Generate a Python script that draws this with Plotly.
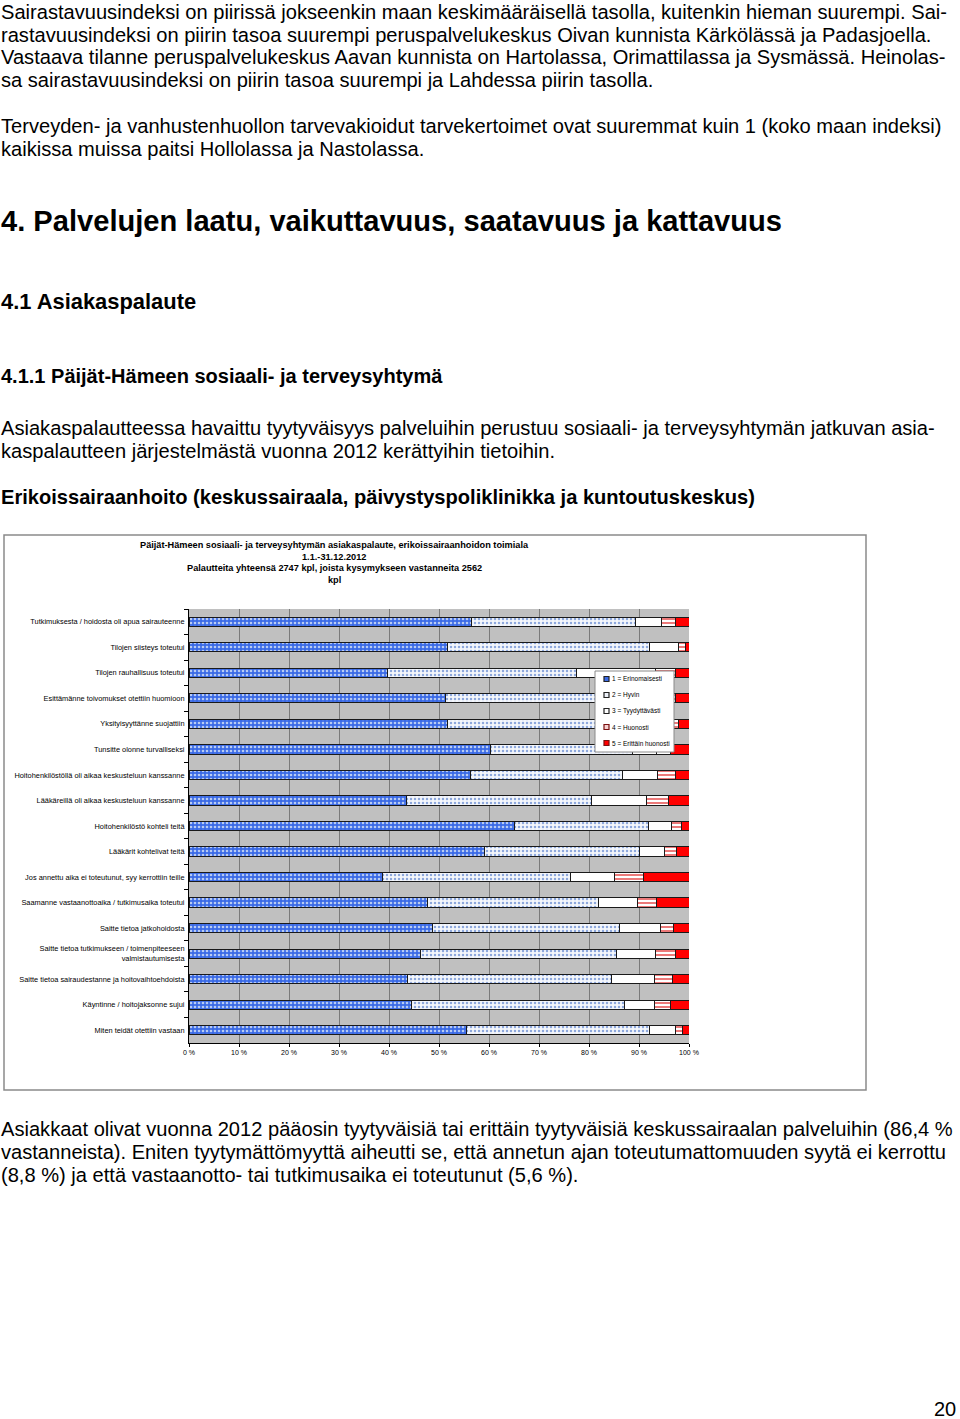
import plotly.graph_objects as go

W, H = 960, 1419

categories = [
    "Tutkimuksesta / hoidosta oli apua sairauteenne",
    "Tilojen siisteys toteutui",
    "Tilojen rauhallisuus toteutui",
    "Esittämänne toivomukset otettiin huomioon",
    "Yksityisyyttänne suojattiin",
    "Tunsitte olonne turvalliseksi",
    "Hoitohenkilöstöllä oli aikaa keskusteluun kanssanne",
    "Lääkäreillä oli aikaa keskusteluun kanssanne",
    "Hoitohenkilöstö kohteli teitä",
    "Lääkärit kohtelivat teitä",
    "Jos annettu aika ei toteutunut, syy kerrottiin teille",
    "Saamanne vastaanottoaika / tutkimusaika toteutui",
    "Saitte tietoa jatkohoidosta",
    "Saitte tietoa tutkimukseen / toimenpiteeseen<br>valmistautumisesta",
    "Saitte tietoa sairaudestanne ja hoitovaihtoehdoista",
    "Käyntinne / hoitojaksonne sujui",
    "Miten teidät otettiin vastaan",
]
series_names = ["1 = Erinomaisesti", "2 = Hyvin", "3 = Tyydyttävästi",
                "4 = Huonosti", "5 = Erittäin huonosti"]
erinomaisesti = [56.4, 51.7, 39.7, 51.3, 51.7, 60.2, 56.2, 43.4, 65.1, 59.0, 38.7, 47.7, 48.7, 46.2, 43.7, 44.4, 55.4]
hyvin = [32.9, 40.3, 37.8, 34.7, 37.3, 28.5, 30.5, 37.0, 26.8, 31.1, 37.5, 34.2, 37.4, 39.3, 40.8, 42.7, 36.7]
tyydyttavasti = [5.2, 5.9, 15.8, 7.0, 6.5, 4.8, 7.0, 11.1, 4.5, 5.0, 8.8, 7.8, 8.2, 7.8, 8.6, 6.0, 5.1]
huonosti = [2.7, 1.3, 3.9, 4.2, 2.3, 2.7, 3.6, 4.4, 2.0, 2.4, 5.9, 3.8, 2.6, 4.0, 3.6, 3.1, 1.5]
erittain_huonosti = [2.8, 0.8, 2.8, 2.8, 2.2, 3.8, 2.7, 4.1, 1.6, 2.5, 9.1, 6.5, 3.1, 2.7, 3.3, 3.8, 1.3]
x_ticks = [0, 10, 20, 30, 40, 50, 60, 70, 80, 90, 100]
x_ticklabels = ["%d %%" % v for v in x_ticks]

values = [erinomaisesti, hyvin, tyydyttavasti, huonosti, erittain_huonosti]
fills = ["#3a6ae6", "#eef2fa", "#ffffff", "#f6d0d0", "#ff0000"]
swatch_borders = ["#222222", "#222222", "#222222", "#7a1010", "#7a1010"]
styles = [
    dict(color=fills[0], pattern=dict(shape=".", bgcolor="#3a6ae6", fgcolor="#b7cbf3", size=4, solidity=0.35)),
    dict(color=fills[1], pattern=dict(shape=".", bgcolor="#f4f7fc", fgcolor="#8ea8dc", size=4, solidity=0.3)),
    dict(color=fills[2]),
    dict(color="#ffffff", pattern=dict(shape="-", bgcolor="#ffffff", fgcolor="#e02020", size=4, solidity=0.3)),
    dict(color=fills[4]),
]

fig = go.Figure()
for name, vals, st in zip(series_names, values, styles):
    marker = dict(line=dict(color="#1a1a1a", width=1), **st)
    fig.add_trace(go.Bar(y=categories, x=vals, name=name, orientation="h",
                         marker=marker, hoverinfo="x+y", showlegend=False))

def px(x):
    return x / W

def py(y):
    return 1 - y / H

FONT = "Liberation Sans, Arial, sans-serif"
annotations = []

def text(x, y, s, size, bold=False, anchor="left", color="#000"):
    if bold:
        s = "<b>" + s + "</b>"
    annotations.append(dict(x=px(x), y=py(y), xref="paper", yref="paper", text=s,
                            showarrow=False, xanchor=anchor, yanchor="middle",
                            borderpad=0,
                            font=dict(family=FONT, size=size, color=color)))

body = 20.1
lines1 = [
    (12, "Sairastavuusindeksi on piirissä jokseenkin maan keskimääräisellä tasolla, kuitenkin hieman suurempi. Sai-"),
    (35, "rastavuusindeksi on piirin tasoa suurempi peruspalvelukeskus Oivan kunnista Kärkölässä ja Padasjoella."),
    (57, "Vastaava tilanne peruspalvelukeskus Aavan kunnista on Hartolassa, Orimattilassa ja Sysmässä. Heinolas-"),
    (80, "sa sairastavuusindeksi on piirin tasoa suurempi ja Lahdessa piirin tasolla."),
    (126, "Terveyden- ja vanhustenhuollon tarvevakioidut tarvekertoimet ovat suuremmat kuin 1 (koko maan indeksi)"),
    (149, "kaikissa muissa paitsi Hollolassa ja Nastolassa."),
    (428, "Asiakaspalautteessa havaittu tyytyväisyys palveluihin perustuu sosiaali- ja terveysyhtymän jatkuvan asia-"),
    (451, "kaspalautteen järjestelmästä vuonna 2012 kerättyihin tietoihin."),
    (1129, "Asiakkaat olivat vuonna 2012 pääosin tyytyväisiä tai erittäin tyytyväisiä keskussairaalan palveluihin (86,4 %"),
    (1152, "vastanneista). Eniten tyytymättömyyttä aiheutti se, että annetun ajan toteutumattomuuden syytä ei kerrottu"),
    (1175, "(8,8 %) ja että vastaanotto- tai tutkimusaika ei toteutunut (5,6 %)."),
]
for y, s in lines1:
    text(0, y, s, body)

text(0, 221, "4. Palvelujen laatu, vaikuttavuus, saatavuus ja kattavuus", 29.1, bold=True)
text(0, 301, "4.1 Asiakaspalaute", 21.9, bold=True)
text(0, 376, "4.1.1 Päijät-Hämeen sosiaali- ja terveysyhtymä", 20.0, bold=True)
text(0, 497, "Erikoissairaanhoito (keskussairaala, päivystyspoliklinikka ja kuntoutuskeskus)", 20.1, bold=True)
text(957, 1409, "20", 20, anchor="right")

title_lines = [
    (545, "Päijät-Hämeen sosiaali- ja terveysyhtymän asiakaspalaute, erikoissairaanhoidon toimiala"),
    (557, "1.1.-31.12.2012"),
    (568, "Palautteita yhteensä 2747 kpl, joista kysymykseen vastanneita 2562"),
    (580, "kpl"),
]
for y, s in title_lines:
    text(334, y, s, 9.2, bold=True, anchor="center")

shapes = [dict(type="rect", xref="paper", yref="paper",
               x0=px(4), x1=px(866), y0=py(1090), y1=py(535),
               line=dict(color="#8a8a8a", width=1.5), fillcolor="rgba(0,0,0,0)", layer="below")]

# legend box (drawn as layout decoration)
shapes.append(dict(type="rect", xref="paper", yref="paper",
                   x0=px(595), x1=px(674), y0=py(752), y1=py(671),
                   line=dict(color="#8a8a8a", width=1), fillcolor="white", layer="above"))
for i, (name, fc, bc) in enumerate(zip(series_names, fills, swatch_borders)):
    yc = 679 + 16 * i
    shapes.append(dict(type="rect", xref="paper", yref="paper",
                       x0=px(604), x1=px(609), y0=py(yc + 2.5), y1=py(yc - 2.5),
                       line=dict(color=bc, width=1.2), fillcolor=fc, layer="above"))
    text(611, yc, name, 6.5)

fig.update_layout(
    template="none",
    width=W, height=H,
    autosize=False,
    margin=dict(l=0, r=0, t=0, b=0, pad=0, autoexpand=False),
    paper_bgcolor="white",
    plot_bgcolor="#c0c0c0",
    barmode="stack",
    bargap=0.64,
    font=dict(family=FONT, size=7, color="#000"),
    showlegend=False,
    xaxis=dict(domain=[px(189), px(689)], range=[0, 100], tickvals=x_ticks,
               ticktext=x_ticklabels, showgrid=True, gridcolor="#7a7a7a", gridwidth=1,
               ticks="outside", ticklen=3, tickcolor="#000", showline=True,
               linecolor="#000", linewidth=1, zeroline=False, automargin=False,
               tickfont=dict(size=7, family=FONT), fixedrange=True),
    yaxis=dict(domain=[py(1043), py(609)], autorange="reversed", type="category",
               ticks="outside", tickson="boundaries", ticklen=4, tickcolor="#000",
               showline=True, linecolor="#000", linewidth=1, showgrid=False,
               automargin=False, zeroline=False,
               tickfont=dict(size=7.4, family=FONT), ticklabelstandoff=2, fixedrange=True),
    annotations=annotations,
    shapes=shapes,
)

fig.write_html("out.html", config={"responsive": False, "displayModeBar": False},
               post_script="document.body.style.margin='0';document.body.style.overflow='hidden';")
